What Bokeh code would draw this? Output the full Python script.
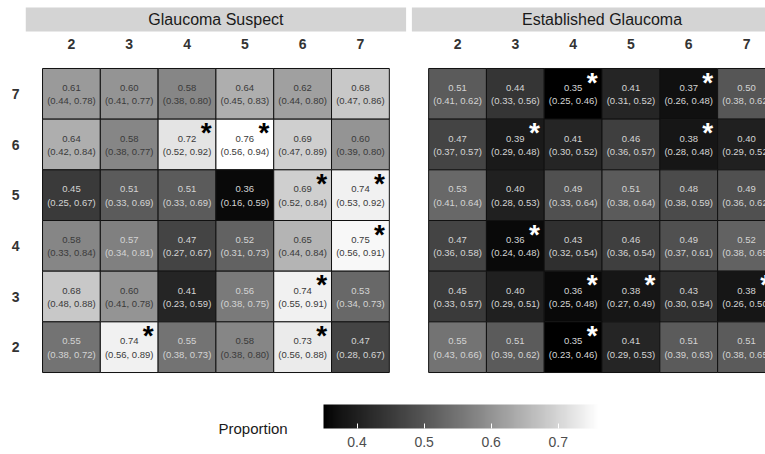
from bokeh.plotting import figure
from bokeh.models import (ColumnDataSource, Range1d, LinearColorMapper, ColorBar,
                          FixedTicker, Label)
from bokeh.embed import file_html
from bokeh.resources import INLINE

# ---------------- data ----------------
panels = ["Glaucoma Suspect", "Established Glaucoma"]
cols = [2, 3, 4, 5, 6, 7]
rows = [7, 6, 5, 4, 3, 2]

suspect_est = [
    [0.61, 0.60, 0.58, 0.64, 0.62, 0.68],
    [0.64, 0.58, 0.72, 0.76, 0.69, 0.60],
    [0.45, 0.51, 0.51, 0.36, 0.69, 0.74],
    [0.58, 0.57, 0.47, 0.52, 0.65, 0.75],
    [0.68, 0.60, 0.41, 0.56, 0.74, 0.53],
    [0.55, 0.74, 0.55, 0.58, 0.73, 0.47],
]
suspect_lo = [
    [0.44, 0.41, 0.38, 0.45, 0.44, 0.47],
    [0.42, 0.38, 0.52, 0.56, 0.47, 0.39],
    [0.25, 0.33, 0.33, 0.16, 0.52, 0.53],
    [0.33, 0.34, 0.27, 0.31, 0.44, 0.56],
    [0.48, 0.41, 0.23, 0.38, 0.55, 0.34],
    [0.38, 0.56, 0.38, 0.38, 0.56, 0.28],
]
suspect_hi = [
    [0.78, 0.77, 0.80, 0.83, 0.80, 0.86],
    [0.84, 0.77, 0.92, 0.94, 0.89, 0.80],
    [0.67, 0.69, 0.69, 0.59, 0.84, 0.92],
    [0.84, 0.81, 0.67, 0.73, 0.84, 0.91],
    [0.88, 0.78, 0.59, 0.75, 0.91, 0.73],
    [0.72, 0.89, 0.73, 0.80, 0.88, 0.67],
]
suspect_sig = [
    [0, 0, 0, 0, 0, 0],
    [0, 0, 1, 1, 0, 0],
    [0, 0, 0, 0, 1, 1],
    [0, 0, 0, 0, 0, 1],
    [0, 0, 0, 0, 1, 0],
    [0, 1, 0, 0, 1, 0],
]

established_est = [
    [0.51, 0.44, 0.35, 0.41, 0.37, 0.50],
    [0.47, 0.39, 0.41, 0.46, 0.38, 0.40],
    [0.53, 0.40, 0.49, 0.51, 0.48, 0.49],
    [0.47, 0.36, 0.43, 0.46, 0.49, 0.52],
    [0.45, 0.40, 0.36, 0.38, 0.43, 0.38],
    [0.55, 0.51, 0.35, 0.41, 0.51, 0.51],
]
established_lo = [
    [0.41, 0.33, 0.25, 0.31, 0.26, 0.38],
    [0.37, 0.29, 0.30, 0.36, 0.28, 0.29],
    [0.41, 0.28, 0.33, 0.38, 0.38, 0.36],
    [0.36, 0.24, 0.32, 0.36, 0.37, 0.38],
    [0.33, 0.29, 0.25, 0.27, 0.30, 0.26],
    [0.43, 0.39, 0.23, 0.29, 0.39, 0.38],
]
established_hi = [
    [0.62, 0.56, 0.46, 0.52, 0.48, 0.62],
    [0.57, 0.48, 0.52, 0.57, 0.48, 0.52],
    [0.64, 0.53, 0.64, 0.64, 0.59, 0.62],
    [0.58, 0.48, 0.54, 0.54, 0.61, 0.65],
    [0.57, 0.51, 0.48, 0.49, 0.54, 0.50],
    [0.66, 0.62, 0.46, 0.53, 0.63, 0.65],
]
established_sig = [
    [0, 0, 1, 0, 1, 0],
    [0, 1, 0, 0, 1, 0],
    [0, 0, 0, 0, 0, 0],
    [0, 1, 0, 0, 0, 0],
    [0, 0, 1, 1, 0, 1],
    [0, 0, 1, 0, 0, 0],
]

legend_title = "Proportion"
legend_ticks = [0.4, 0.5, 0.6, 0.7]

# ---------------- layout / style ----------------
FONT = "Liberation Sans"
PANEL_OFFSET = 6.68
STRIP_PAD = 0.29
W, H = 765, 454


def lab_gray(t):
    L = 100.0 * t
    Y = ((L + 16) / 116) ** 3 if L > 8 else L / 903.3
    s = 12.92 * Y if Y <= 0.0031308 else 1.055 * Y ** (1 / 2.4) - 0.055
    v = max(0, min(255, int(round(255 * s))))
    return "#%02x%02x%02x" % (v, v, v)


palette = [lab_gray(i / 255) for i in range(256)]
all_vals = [v for r in suspect_est + established_est for v in r]
mapper = LinearColorMapper(palette=palette, low=min(all_vals), high=max(all_vals))

p = figure(width=W, height=H, output_backend="svg", toolbar_location=None,
           x_axis_location=None, y_axis_location=None,
           x_range=Range1d(-0.727, 12.508), y_range=Range1d(-1.618, 7.342),
           min_border=0, outline_line_color=None)
p.grid.visible = False

xs, ys, vals, l1, l2, tcol = [], [], [], [], [], []
ax, ay, acol = [], [], []
datasets = [(suspect_est, suspect_lo, suspect_hi, suspect_sig, "#000000"),
            (established_est, established_lo, established_hi, established_sig, "#ffffff")]
for k, (est, lo, hi, sig, star_col) in enumerate(datasets):
    off = k * PANEL_OFFSET
    for ri, r in enumerate(rows):
        for ci, c in enumerate(cols):
            x = ci + 0.5 + off
            y = (r - rows[-1]) + 0.5
            v = est[ri][ci]
            xs.append(x)
            ys.append(y)
            vals.append(v)
            l1.append("%.2f" % v)
            l2.append("(%.2f, %.2f)" % (lo[ri][ci], hi[ri][ci]))
            tcol.append("#3a3a3a" if v >= 0.575 else "#d4d4d4")
            if sig[ri][ci]:
                ax.append(x + 0.33)
                ay.append(y + 0.5 - 0.27)
                acol.append(star_col)

src = ColumnDataSource(dict(x=xs, y=ys, v=vals, l1=l1, l2=l2, tc=tcol))
p.rect(x="x", y="y", width=1, height=1, source=src,
       fill_color={"field": "v", "transform": mapper},
       line_color="#111111", line_width=1)
p.text(x="x", y="y", text="l1", source=src, y_offset=-6,
       text_align="center", text_baseline="middle", text_color="tc",
       text_font={"value": FONT}, text_font_size="9.5px")
p.text(x="x", y="y", text="l2", source=src, y_offset=7,
       text_align="center", text_baseline="middle", text_color="tc",
       text_font={"value": FONT}, text_font_size="9.5px")
p.text(x=ax, y=ay, text=["*"] * len(ax), text_color=acol,
       text_align="center", text_baseline="alphabetic",
       text_font={"value": FONT}, text_font_size="28px", text_font_style="bold")

# strips
n = len(cols)
sx = [k * PANEL_OFFSET + n / 2 for k in range(len(panels))]
p.quad(left=[k * PANEL_OFFSET - STRIP_PAD for k in range(len(panels))],
       right=[k * PANEL_OFFSET + n + STRIP_PAD for k in range(len(panels))],
       bottom=[6.73] * len(panels), top=[7.204] * len(panels),
       fill_color="#d4d4d4", line_color=None)
p.text(x=sx, y=[6.967] * len(panels), text=panels, text_align="center",
       text_baseline="middle", text_color="#1a1a1a",
       text_font={"value": FONT}, text_font_size="16px")

# column labels
cx, ct = [], []
for k in range(len(panels)):
    for ci, c in enumerate(cols):
        cx.append(k * PANEL_OFFSET + ci + 0.5)
        ct.append(str(c))
p.text(x=cx, y=[6.493] * len(cx), text=ct, text_align="center",
       text_baseline="middle", text_color="#333333",
       text_font={"value": FONT}, text_font_size="14px", text_font_style="bold")

# row labels
p.text(x=[-0.467] * len(rows), y=[(r - rows[-1]) + 0.5 for r in rows],
       text=[str(r) for r in rows], text_align="center", text_baseline="middle",
       text_color="#333333", text_font={"value": FONT}, text_font_size="14px",
       text_font_style="bold")

# colour legend
cb = ColorBar(color_mapper=mapper, orientation="horizontal", location=(323, 5),
              width=275, height=24, ticker=FixedTicker(ticks=legend_ticks),
              major_label_text_font=FONT, major_label_text_font_size="14px",
              major_label_text_color="#4d4d4d",
              major_tick_line_color="white", major_tick_in=5, major_tick_out=0,
              minor_tick_line_color=None, bar_line_color=None,
              border_line_color=None, background_fill_alpha=0,
              padding=0, margin=0, label_standoff=8)
p.add_layout(cb, "center")
p.add_layout(Label(x=218, y=26, x_units="screen", y_units="screen",
                   text=legend_title, text_font=FONT, text_font_size="15px",
                   text_color="#1a1a1a", text_baseline="middle", text_align="left"))

open("out.html", "w").write(file_html(p, INLINE))
